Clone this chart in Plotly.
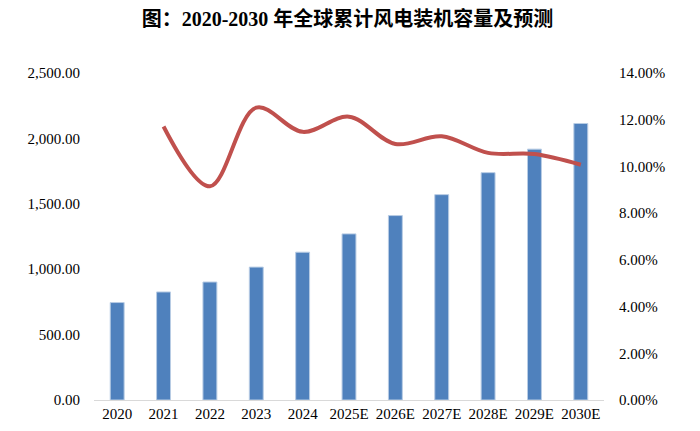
import plotly.graph_objects as go

years = ["2020", "2021", "2022", "2023", "2024", "2025E", "2026E", "2027E", "2028E", "2029E", "2030E"]
capacity = [745, 826, 902, 1016, 1130, 1270, 1410, 1570, 1738, 1918, 2114]
growth_years = years[1:]
growth = [0.1171, 0.0915, 0.1252, 0.1148, 0.1213, 0.1096, 0.1129, 0.1058, 0.1053, 0.1007]

left_ticks = [0, 500, 1000, 1500, 2000, 2500]
left_labels = ["0.00", "500.00", "1,000.00", "1,500.00", "2,000.00", "2,500.00"]
right_ticks = [0, 0.02, 0.04, 0.06, 0.08, 0.10, 0.12, 0.14]
right_labels = ["0.00%", "2.00%", "4.00%", "6.00%", "8.00%", "10.00%", "12.00%", "14.00%"]

font_serif = "Times New Roman, Liberation Serif, Noto Sans CJK SC, serif"

fig = go.Figure()
fig.add_trace(go.Bar(
    x=years, y=capacity, yaxis="y",
    marker=dict(color="#4F81BD", line=dict(color="#B8CCE4", width=1)),
    showlegend=False,
))
fig.add_trace(go.Scatter(
    x=growth_years, y=growth, yaxis="y2", mode="lines",
    line=dict(color="#C0504D", width=4, shape="spline", smoothing=1.0),
    showlegend=False,
))

fig.update_layout(
    width=700, height=431,
    margin=dict(l=86, r=104, t=65, b=39),
    paper_bgcolor="white", plot_bgcolor="white",
    bargap=0.7,
    title=dict(
        text="<b>图：2020-2030 年全球累计风电装机容量及预测</b>",
        x=0.485, xanchor="center", y=0.975, yanchor="middle",
        font=dict(family=font_serif, size=20, color="black"),
    ),
    font=dict(family=font_serif, size=15, color="black"),
    xaxis=dict(
        type="category", showline=True, linecolor="#D9D9D9", linewidth=1,
        ticks="", showgrid=False, tickfont=dict(size=15), ticklen=0,
    ),
    yaxis=dict(
        range=[0, 2500], tickvals=left_ticks, ticktext=left_labels,
        showgrid=False, zeroline=False, showline=False, ticks="",
        ticklabelstandoff=13,
    ),
    yaxis2=dict(
        range=[0, 0.14], tickvals=right_ticks, ticktext=right_labels,
        overlaying="y", side="right", showgrid=False, zeroline=False,
        showline=False, ticks="", ticklabelstandoff=14,
    ),
)

fig.write_html("out.html")
